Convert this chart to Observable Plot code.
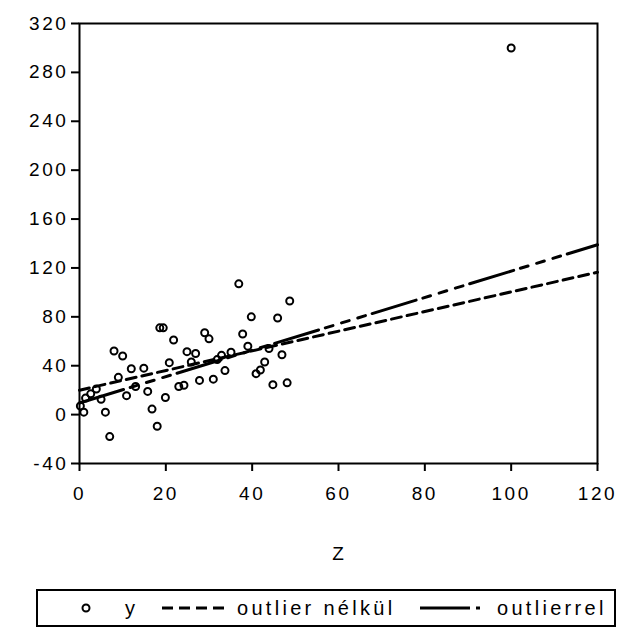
<!DOCTYPE html>
<html><head><meta charset="utf-8">
<script src="https://cdn.jsdelivr.net/npm/d3@7"></script>
<script src="https://cdn.jsdelivr.net/npm/@observablehq/plot@0.6"></script>
<style>
html,body{margin:0;padding:0;background:#fff;}
body{font-family:"Liberation Sans",Arial,sans-serif;color:#000;}
#wrap{position:relative;width:629px;height:632px;overflow:hidden;}
#chart svg text{letter-spacing:2.6px;}
#zlabel{position:absolute;left:0;width:678px;text-align:center;top:543px;font-size:19px;letter-spacing:2px;}
#legend{position:absolute;left:36px;top:589px;width:580px;height:38px;border:2px solid #000;box-sizing:border-box;font-size:20px;letter-spacing:3.3px;}
#legend .it{position:absolute;top:7px;line-height:20px;}
#legend svg{position:absolute;top:0;}
</style></head>
<body>
<div id="wrap">
  <div id="chart"></div>
  <div id="zlabel">Z</div>
  <div id="legend"></div>
</div>
<script>
// observed points (Z, y)
const zValues = [36.9,48.7,39.8,45.9,18.6,19.4,29.0,37.8,21.8,30.0,8.0,10.0,24.9,26.9,39.0,43.9,35.1,32.9,25.9,20.8,31.9,46.9,42.9,12.0,14.9,9.0,41.9,40.9,33.7,13.0,15.8,10.9,23.0,24.2,27.8,31.0,19.9,44.8,48.1,16.8,18.0,7.0,6.0,1.0,0.2,5.0,3.9,2.6,1.4,100];
const yValues = [107,93,80,79,71,71,67,66,61,62,52,48,51.5,50,56,54,51,48.5,43,42.5,45,49,43,37.5,38,30.5,36.5,33.5,36,23,19,15.5,23,24,28,29,14,24.5,26,4.5,-9.5,-18,2,2,7,12.5,21,17,13.5,300];
// fitted regression lines (endpoints)
const fitZ = [0, 120];
const fitWithoutOutlier = [20, 116.5];
const fitWithOutlier = [9.5, 139];
const xTicks = [0,20,40,60,80,100,120];
const yTicks = [-40,0,40,80,120,160,200,240,280,320];
const legendLabels = ["y", "outlier nélkül", "outlierrel"];

const points = zValues.map((z,i)=>({z, y:yValues[i]}));
const fit = fitZ.map((z,i)=>({z, a:fitWithoutOutlier[i], b:fitWithOutlier[i]}));
const fmt = d => String(d);

const chart = Plot.plot({
  width:629, height:590,
  marginLeft:79, marginRight:32, marginTop:23, marginBottom:127,
  style:{fontFamily:"Liberation Sans, Arial, sans-serif", fontSize:"19px", color:"#000", background:"#fff", overflow:"visible"},
  x:{domain:[0,120]},
  y:{domain:[-40,320]},
  marks:[
    Plot.axisX({ticks:xTicks, tickFormat:fmt, tickSize:8, tickPadding:15, strokeWidth:2, label:null, fontSize:19}),
    Plot.axisY({ticks:yTicks, tickFormat:fmt, tickSize:8, tickPadding:3, strokeWidth:2, label:null, fontSize:19}),
    Plot.line(fit, {x:"z", y:"a", stroke:"#000", strokeWidth:3, strokeDasharray:"10,6"}),
    Plot.line(fit, {x:"z", y:"b", stroke:"#000", strokeWidth:3, strokeDasharray:"46,7,8,9,8,9,8,7"}),
    Plot.dot(points, {x:"z", y:"y", r:3.5, stroke:"#000", strokeWidth:2, fill:"none"}),
    Plot.frame({stroke:"#000", strokeWidth:2})
  ]
});
document.getElementById("chart").appendChild(chart);

// legend
const lg = document.getElementById("legend");
const ns = "http://www.w3.org/2000/svg";
function sample(left, width, build){
  const s = document.createElementNS(ns,"svg");
  s.setAttribute("width", width); s.setAttribute("height", 34);
  s.style.left = left + "px";
  build(s); lg.appendChild(s);
}
function el(s, tag, attrs){ const e=document.createElementNS(ns,tag); for(const k in attrs) e.setAttribute(k, attrs[k]); s.appendChild(e); }
sample(41, 14, s=>el(s,"circle",{cx:7,cy:17,r:3.5,fill:"none",stroke:"#000","stroke-width":2}));
function text(left, t){ const d=document.createElement("div"); d.className="it"; d.style.left=left+"px"; d.textContent=t; lg.appendChild(d); }
text(87, legendLabels[0]);
sample(122, 72, s=>el(s,"line",{x1:2,y1:17,x2:70,y2:17,stroke:"#000","stroke-width":3,"stroke-dasharray":"11,6"}));
text(199, legendLabels[1]);
sample(382, 62, s=>el(s,"line",{x1:0,y1:17,x2:60,y2:17,stroke:"#000","stroke-width":3,"stroke-dasharray":"50,6,4,20"}));
text(459, legendLabels[2]);
</script>
</body></html>
